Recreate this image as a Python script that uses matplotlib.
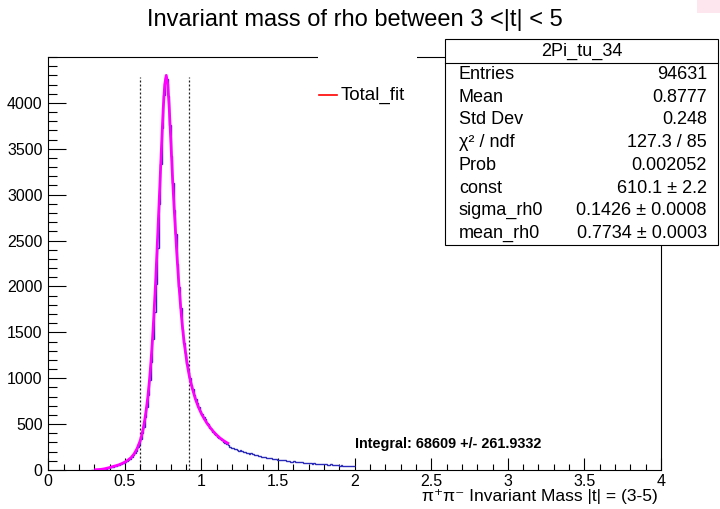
import numpy as np
import matplotlib
matplotlib.use('Agg')
import matplotlib.pyplot as plt
from matplotlib.patches import Rectangle
from matplotlib.lines import Line2D
from matplotlib.ticker import MultipleLocator, FixedLocator

plt.rcParams['font.family'] = ['Liberation Sans', 'DejaVu Sans']

# ---------------- data ----------------
hist_start = 0.28
bin_width = 0.01
counts = [
    1, 2, 2, 4, 4, 6, 7, 9, 12, 14,            # 0.28-0.37
    19, 23, 28, 33, 37, 42, 46, 51, 57, 63,    # 0.38-0.47
    71, 80, 90, 98, 112, 122, 140, 162, 190, 212,  # 0.48-0.57
    248, 288, 335, 400, 470, 575, 690, 820, 985, 1180,  # 0.58-0.67
    1425, 1720, 2030, 2420, 2900, 3330, 3730, 4090, 4285, 4260,  # 0.68-0.77
    4070, 3760, 3420, 3130, 2830, 2570, 2250, 1990, 1770, 1540,  # 0.78-0.87
    1380, 1270, 1160, 1085, 1000, 930, 878, 815, 772, 725,  # 0.88-0.97
    690, 638, 615, 575, 560, 515, 500, 458, 445, 418,  # 0.98-1.07
    395, 380, 362, 348, 336, 322, 306, 296, 280, 268,  # 1.08-1.17
    256, 244, 236, 232, 224, 220, 212, 214, 205, 200,  # 1.18-1.27
    196, 190, 184, 178, 180, 170, 166, 160, 158, 152,  # 1.28-1.37
    155, 146, 140, 142, 135, 130, 132, 126, 122, 118,  # 1.38-1.47
    121, 114, 110, 112, 106, 104, 108, 100, 96, 98,    # 1.48-1.57
    92, 90, 94, 88, 85, 86, 82, 84, 80, 76,            # 1.58-1.67
    78, 74, 72, 75, 70, 72, 68, 70, 66, 64,            # 1.68-1.77
    67, 62, 60, 63, 58, 56, 60, 55, 52, 54,            # 1.78-1.87
    50, 52, 48, 50, 46, 47, 44, 46, 43, 45,            # 1.88-1.97
    42, 44,                                            # 1.98-1.99
]

fit_mass = [0.30, 0.32, 0.34, 0.36, 0.38, 0.40, 0.42, 0.44, 0.46, 0.48,
            0.50, 0.52, 0.54, 0.56, 0.58, 0.60, 0.61, 0.62, 0.63, 0.64,
            0.65, 0.66, 0.67, 0.68, 0.69, 0.70, 0.71, 0.72, 0.73, 0.74,
            0.75, 0.76, 0.77, 0.78, 0.79, 0.80, 0.81, 0.82, 0.83, 0.84,
            0.85, 0.86, 0.87, 0.88, 0.89, 0.90, 0.91, 0.92, 0.93, 0.94,
            0.96, 0.98, 1.00, 1.02, 1.04, 1.06, 1.08, 1.10, 1.12, 1.14,
            1.16, 1.18]
fit_counts = [2, 4, 6, 11, 18, 27, 37, 46, 56, 70,
              86, 108, 134, 175, 235, 320, 380, 455, 550, 665,
              800, 970, 1175, 1420, 1710, 2030, 2400, 2780, 3170, 3560,
              3930, 4200, 4300, 4200, 3930, 3580, 3220, 2900, 2610, 2330,
              2080, 1860, 1660, 1490, 1350, 1230, 1120, 1030, 955, 890,
              775, 685, 612, 552, 500, 455, 415, 380, 350, 325,
              303, 284]

window_edges = [0.60, 0.92]
window_top = 4280

x_tick_values = [0, 0.5, 1, 1.5, 2, 2.5, 3, 3.5, 4]
x_tick_labels = ['0', '0.5', '1', '1.5', '2', '2.5', '3', '3.5', '4']
y_tick_values = [0, 500, 1000, 1500, 2000, 2500, 3000, 3500, 4000]

title = 'Invariant mass of rho between 3 <|t| < 5'
xlabel = 'π\u207Aπ\u207B Invariant Mass |t| = (3-5)'
stats_name = '2Pi_tu_34'
stats_labels = ['Entries', 'Mean', 'Std Dev', 'χ² / ndf', 'Prob',
                'const', 'sigma_rh0', 'mean_rh0']
stats_values = ['94631', '0.8777', '0.248', '127.3 / 85', '0.002052',
                '610.1 ± 2.2', '0.1426 ± 0.0008', '0.7734 ± 0.0003']
integral_text = 'Integral: 68609 +/- 261.9332'
legend_label = 'Total_fit'

# ---------------- figure ----------------
W, H = 720, 509
fig = plt.figure(figsize=(7.2, 5.09), dpi=100)


def fx(px):
    return px / W


def fy(py):
    return 1 - py / H


ax_l, ax_r, ax_t, ax_b = 48.3, 661.0, 57.0, 470.0
ax = fig.add_axes([fx(ax_l), fy(ax_b), fx(ax_r) - fx(ax_l), fy(ax_t) - fy(ax_b)])

edges = hist_start + bin_width * np.arange(len(counts) + 1)
ax.stairs(counts, edges, baseline=None, color='#2a2ab8', lw=1.0, zorder=2)
ax.plot(fit_mass, fit_counts, color='#ff00ff', lw=2.0, zorder=3,
        solid_capstyle='butt')
for xv in window_edges:
    ax.plot([xv, xv], [0, window_top], color='#222222', lw=0.9,
            ls=(0, (1.6, 1.6)), zorder=1)

ax.set_xlim(0, 4)
ax.set_ylim(0, 4500)
ax.xaxis.set_major_locator(FixedLocator(x_tick_values))
ax.set_xticklabels(x_tick_labels)
ax.xaxis.set_minor_locator(MultipleLocator(0.1))
ax.yaxis.set_major_locator(FixedLocator(y_tick_values))
ax.yaxis.set_minor_locator(MultipleLocator(100))

for s in ax.spines.values():
    s.set_linewidth(0.8)
ax.tick_params(axis='both', which='both', direction='in', top=False,
               right=False, width=0.8, labelsize=11.5)
ax.tick_params(axis='y', which='major', length=13, pad=4)
ax.tick_params(axis='y', which='minor', length=6.5)
ax.tick_params(axis='x', which='major', length=8.6, pad=3)
ax.tick_params(axis='x', which='minor', length=4.3)

# title
fig.text(fx(355), fy(20), title, ha='center', va='center', fontsize=17)

# x-axis title
fig.text(fx(658), fy(496), xlabel, ha='right', va='center', fontsize=12.5)

# integral annotation
fig.text(fx(355), fy(444), integral_text, ha='left', va='center',
         fontsize=10.4, fontweight='bold')

# legend (white box hides the top frame line)
fig.add_artist(Rectangle((fx(318), fy(130)), fx(417) - fx(318), fy(50) - fy(130),
                         transform=fig.transFigure, facecolor='white',
                         edgecolor='none', zorder=5))
fig.add_artist(Line2D([fx(319), fx(337)], [fy(95), fy(95)],
                      transform=fig.transFigure, color='red', lw=1.2, zorder=6))
fig.text(fx(341), fy(95), legend_label, ha='left', va='center', fontsize=13.5,
         zorder=6)

# stats box
bx0, bx1, by0, by1 = 445, 718, 39, 245
fig.add_artist(Rectangle((fx(bx0), fy(by1)), fx(bx1) - fx(bx0), fy(by0) - fy(by1),
                         transform=fig.transFigure, facecolor='white',
                         edgecolor='black', lw=0.8, zorder=5))
sep_y = 63
fig.add_artist(Line2D([fx(bx0), fx(bx1)], [fy(sep_y), fy(sep_y)],
                      transform=fig.transFigure, color='black', lw=0.8, zorder=6))
fig.text(fx((bx0 + bx1) / 2), fy(51), stats_name, ha='center', va='center',
         fontsize=13, zorder=7)
row_h = (by1 - sep_y) / len(stats_labels)
for i, (lab, val) in enumerate(zip(stats_labels, stats_values)):
    yc = sep_y + row_h * (i + 0.5)
    fig.text(fx(459), fy(yc), lab, ha='left', va='center', fontsize=13, zorder=7)
    fig.text(fx(707), fy(yc), val, ha='right', va='center', fontsize=13, zorder=7)

# small pink patch in the top right corner
fig.add_artist(Rectangle((fx(697), fy(13)), fx(720) - fx(697), fy(0) - fy(13),
                         transform=fig.transFigure, facecolor='#fde6ee',
                         edgecolor='none', zorder=4))

fig.savefig('out.png', dpi=100)
